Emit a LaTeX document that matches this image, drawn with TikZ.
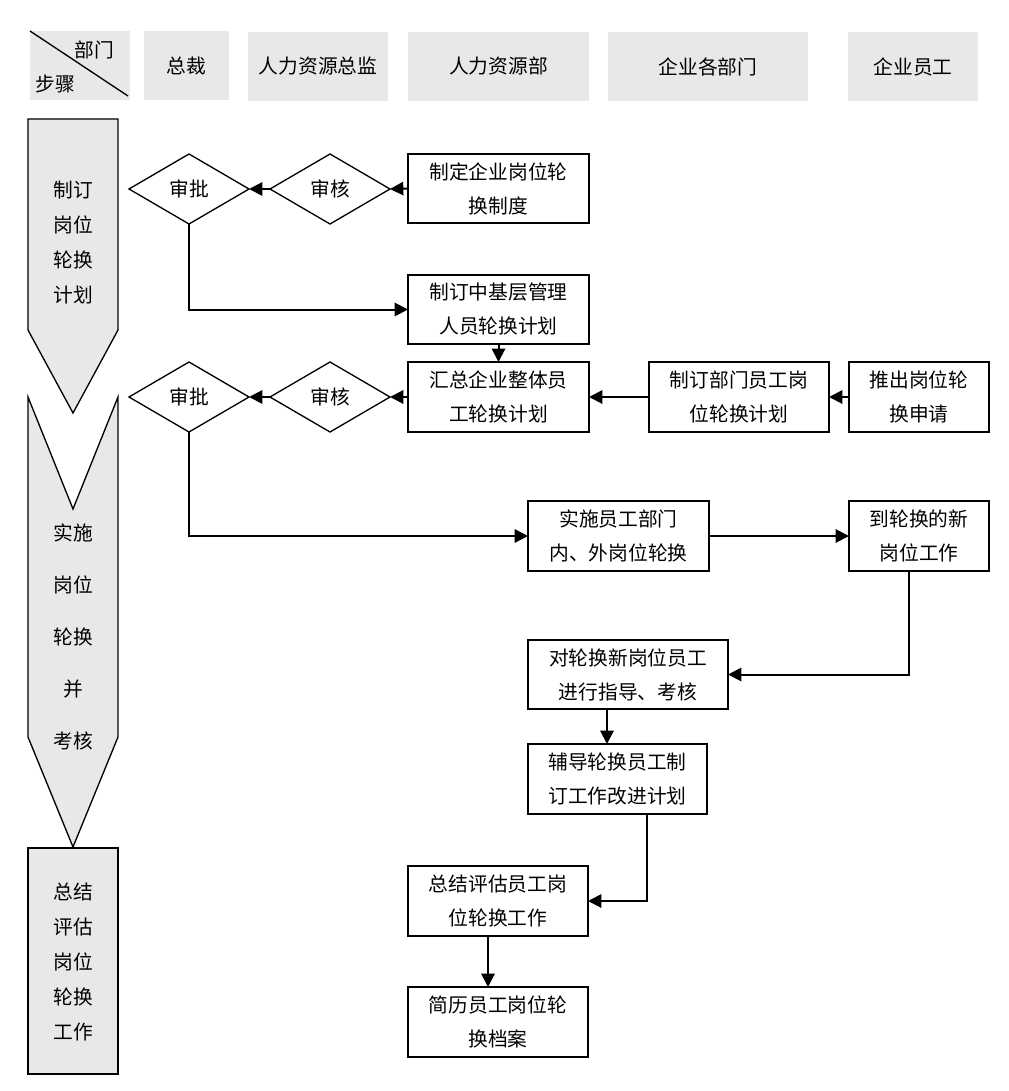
\documentclass[tikz,border=0pt]{standalone}
\usepackage{fontspec}
\newfontfamily\cjk{Noto Sans CJK SC}
\usetikzlibrary{shapes.geometric,arrows.meta,calc}
\definecolor{hgray}{HTML}{E8E8E8}
\newcommand{\bx}[7][box]{\node[#1, minimum width={(#5-#3)*0.75pt}, minimum height={(#6-#4)*0.75pt}] (#2) at ({(#3+#5)/2},{(#4+#6)/2}) {#7};}
\begin{document}
\begin{tikzpicture}[x=0.75pt,y=-0.75pt,
  txt/.style={font=\cjk\fontsize{14.8}{25.5}\selectfont, align=center},
  box/.style={txt, draw, line width=1pt, inner sep=0pt, outer sep=0pt},
  hdr/.style={txt, fill=hgray, inner sep=0pt, outer sep=0pt},
  dia/.style={txt, diamond, draw, line width=1pt, inner sep=0pt, outer sep=0pt, minimum width=90pt, minimum height=52.5pt},
  arr/.style={line width=1.5pt, -{Triangle[length=10pt,width=10pt]}},
  lane/.style={fill=hgray, draw, line width=1pt, line join=miter}
]
\useasboundingbox (0,0) rectangle (1008,1091);

% header
\bx[hdr]{h0}{30}{31}{130}{100}{}
\draw[line width=1pt] (h0.north west) -- ($(h0.south east)+(-2,-4)$);
\node[txt] (h0a) at (94,50) {部门};
\node[txt] (h0b) at (55,84) {步骤};
\bx[hdr]{h1}{144}{31}{229}{100}{总裁}
\bx[hdr]{h2}{248}{32}{388}{101}{人力资源总监}
\bx[hdr]{h3}{408}{32}{589}{101}{人力资源部}
\bx[hdr]{h4}{608}{32}{808}{101}{企业各部门}
\bx[hdr]{h5}{848}{32}{978}{101}{企业员工}

% lanes (steps)
\draw[lane] (28,119) -- (118,119) -- (118,330) -- (73,413) -- (28,330) -- cycle;
\node[txt, font=\cjk\fontsize{14.8}{26.25}\selectfont] (s1) at (73,243) {制订\\岗位\\轮换\\计划};
\draw[lane] (28,397) -- (73,509) -- (118,397) -- (118,737) -- (73,847) -- (28,737) -- cycle;
\node[txt, font=\cjk\fontsize{14.8}{39}\selectfont] (s2) at (73,637) {实施\\岗位\\轮换\\并\\考核};
\draw[lane] (28,848) rectangle (118,1074);
\node[txt, font=\cjk\fontsize{14.8}{26.25}\selectfont] (s3) at (73,961.5) {总结\\评估\\岗位\\轮换\\工作};

% row 1
\node[dia] (sp1) at (189,189) {审批};
\node[dia] (sh1) at (330,189) {审核};
\bx{zd}{408}{154}{589}{223}{制定企业岗位轮\\换制度}
\bx{zj}{408}{275}{589}{344}{制订中基层管理\\人员轮换计划}

% row 2
\node[dia] (sp2) at (189,397) {审批};
\node[dia] (sh2) at (330,397) {审核};
\bx{hz}{408}{362}{589}{432}{汇总企业整体员\\工轮换计划}
\bx{bm}{649}{362}{829}{432}{制订部门员工岗\\位轮换计划}
\bx{tc}{849}{362}{989}{432}{推出岗位轮\\换申请}

% row 3
\bx{ss}{528}{501}{709}{571}{实施员工部门\\内、外岗位轮换}
\bx{dl}{849}{501}{989}{571}{到轮换的新\\岗位工作}
\bx{dlh}{528}{640}{728}{709}{对轮换新岗位员工\\进行指导、考核}
\bx{fd}{528}{744}{707}{814}{辅导轮换员工制\\订工作改进计划}
\bx{zj2}{408}{866}{588}{936}{总结评估员工岗\\位轮换工作}
\bx{jl}{408}{987}{588}{1057}{简历员工岗位轮\\换档案}

\coordinate (c0) at (909,0);
\coordinate (c1) at (607,0);
\coordinate (c2) at (647,0);
\coordinate (c3) at (488,0);

% connectors
\draw[arr] (zd.west) -- (sh1.east);
\draw[arr] (sh1.west) -- (sp1.east);
\draw[arr] (sp1.south) |- (zj.west);
\draw[arr] (zj.south) -- (hz.north);
\draw[arr] (tc.west) -- (bm.east);
\draw[arr] (bm.west) -- (hz.east);
\draw[arr] (hz.west) -- (sh2.east);
\draw[arr] (sh2.west) -- (sp2.east);
\draw[arr] (sp2.south) |- (ss.west);
\draw[arr] (ss.east) -- (dl.west);
\draw[arr] (dl.south -| c0) |- (dlh.east);
\draw[arr] (dlh.south -| c1) -- (fd.north -| c1);
\draw[arr] (fd.south -| c2) |- (zj2.east);
\draw[arr] (zj2.south -| c3) -- (jl.north -| c3);
\end{tikzpicture}
\end{document}
